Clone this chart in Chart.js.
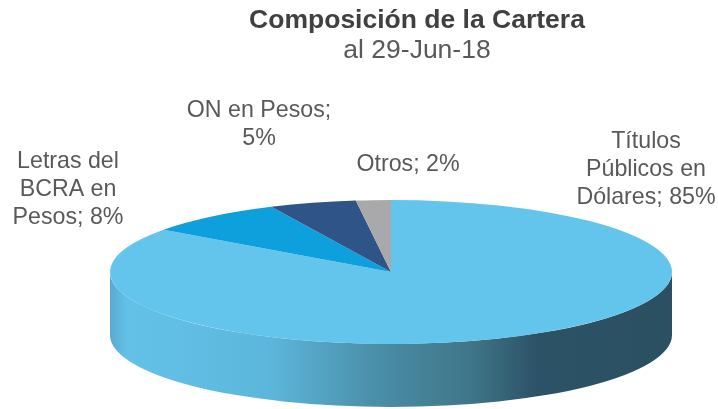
<!DOCTYPE html>
<html>
<head>
<meta charset="utf-8">
<style>
  html, body { margin: 0; padding: 0; background: #fff; }
  #wrap { width: 718px; height: 409px; }
</style>
<script src="https://cdn.jsdelivr.net/npm/chart.js@4/dist/chart.umd.min.js"></script>
</head>
<body>
<div id="wrap"><canvas id="chart"></canvas></div>
<script>
// Data
const categories = ['Títulos Públicos en Dólares', 'Letras del BCRA en Pesos', 'ON en Pesos', 'Otros'];
const shares = [85, 8, 5, 2];
const sliceColors = ['#63c5ec', '#0e9fdd', '#2f5488', '#a9a9ab'];
const sliceLabels = [
    ['Títulos', 'Públicos en', 'Dólares; 85%'],
    ['Letras del', 'BCRA en', 'Pesos; 8%'],
    ['ON en Pesos;', '5%'],
    ['Otros; 2%']
];

// Where the squashed pie sits on the page
const PIE = { cx: 391, cy: 272, rx: 281, ry: 72, depth: 63 };
const LABEL_POS = [[646, 142], [68, 162], [259, 111], [408, 165]];
const LABEL_FONT = '23.2px "Liberation Sans", Arial, sans-serif';
const LINE_H = 28;

// Tilts the flat pie and draws the side wall under it
const tiltPlugin = {
    id: 'tilt',
    beforeDatasetsDraw(chart) {
        const ctx = chart.ctx;
        const grad = ctx.createLinearGradient(PIE.cx - PIE.rx, 0, PIE.cx + PIE.rx, 0);
        grad.addColorStop(0, '#5aa9cf');
        grad.addColorStop(0.03, '#63c1e8');
        grad.addColorStop(0.28, '#5db7dc');
        grad.addColorStop(0.47, '#4a8fa9');
        grad.addColorStop(0.64, '#407689');
        grad.addColorStop(0.76, '#2c5266');
        grad.addColorStop(1, '#2b5062');
        ctx.save();
        ctx.beginPath();
        ctx.ellipse(PIE.cx, PIE.cy + PIE.depth, PIE.rx, PIE.ry, 0, 0, Math.PI);
        ctx.lineTo(PIE.cx - PIE.rx, PIE.cy);
        ctx.ellipse(PIE.cx, PIE.cy, PIE.rx, PIE.ry, 0, Math.PI, 0, true);
        ctx.closePath();
        ctx.fillStyle = grad;
        ctx.fill();
        ctx.restore();

        const arc = chart.getDatasetMeta(0).data[0];
        ctx.save();
        ctx.translate(PIE.cx, PIE.cy);
        ctx.scale(PIE.rx / arc.outerRadius, PIE.ry / arc.outerRadius);
        ctx.translate(-arc.x, -arc.y);
    },
    afterDatasetsDraw(chart) {
        const ctx = chart.ctx;
        ctx.restore();

        // slice labels
        ctx.save();
        ctx.font = LABEL_FONT;
        ctx.fillStyle = '#595959';
        ctx.textAlign = 'center';
        ctx.textBaseline = 'middle';
        sliceLabels.forEach((lines, i) => {
            lines.forEach((line, j) => {
                ctx.fillText(line, LABEL_POS[i][0], LABEL_POS[i][1] + j * LINE_H);
            });
        });
        ctx.restore();
    }
};

new Chart(document.getElementById('chart'), {
    type: 'pie',
    data: {
        labels: categories,
        datasets: [{
            data: shares,
            backgroundColor: sliceColors,
            borderWidth: 0
        }]
    },
    options: {
        responsive: true,
        maintainAspectRatio: false,
        animation: false,
        layout: { padding: { left: 116, top: 6 } },
        plugins: {
            legend: { display: false },
            tooltip: { enabled: false },
            title: {
                display: true,
                text: 'Composición de la Cartera',
                fullSize: false,
                color: '#404040',
                font: { family: '"Liberation Sans", Arial, sans-serif', size: 26.5, weight: 'bold', lineHeight: 1.1 },
                padding: { top: 0, bottom: 0 }
            },
            subtitle: {
                display: true,
                text: 'al 29-Jun-18',
                fullSize: false,
                color: '#595959',
                font: { family: '"Liberation Sans", Arial, sans-serif', size: 26.5 },
                padding: { top: 0, bottom: 4 }
            }
        }
    },
    plugins: [tiltPlugin]
});
</script>
</body>
</html>
